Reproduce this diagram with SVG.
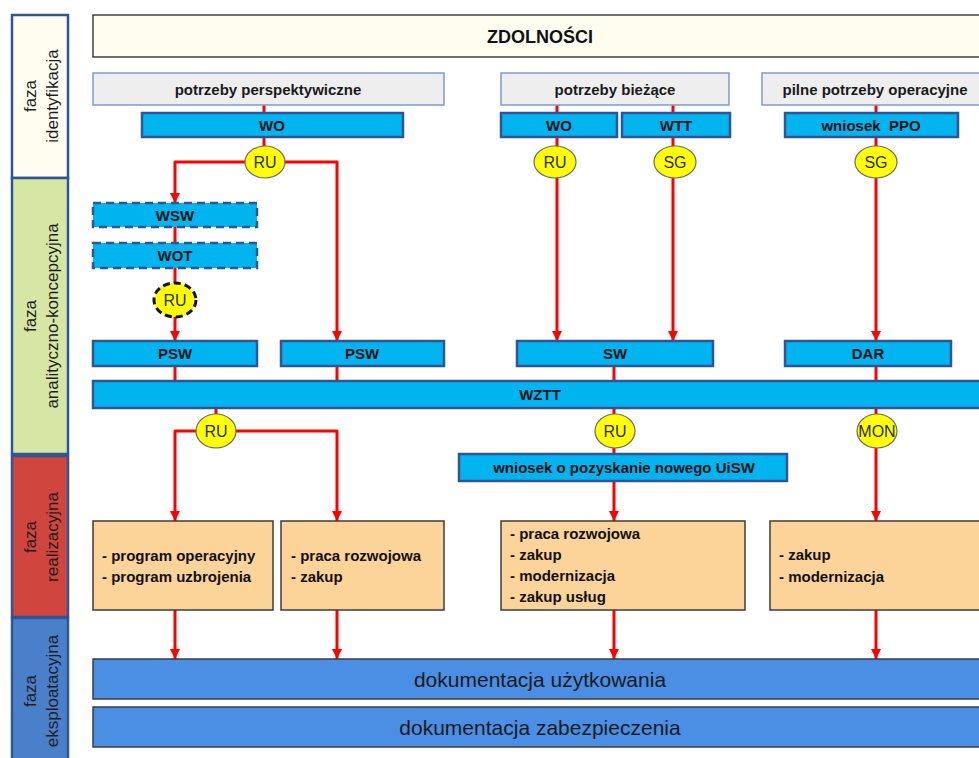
<svg xmlns="http://www.w3.org/2000/svg" width="979" height="758" viewBox="0 0 979 758">
  <style>
    .phase { stroke: #2f5597; stroke-width: 2.5; }
    .ptxt { font-family: "Liberation Sans", Arial, sans-serif; font-size: 17px; fill: #1e1e1e; }
    .need { fill: #eeeeee; stroke: #7f9cc9; stroke-width: 1.5; }
    .ntxt { font-family: "Liberation Sans", Arial, sans-serif; font-size: 15px; font-weight: bold; fill: #1a1a1a; text-anchor: middle; }
    .bb { fill: #00b4f0; stroke: #2f5597; stroke-width: 2.5; }
    .bbd { fill: #00b4f0; stroke: #2f5597; stroke-width: 2.5; stroke-dasharray: 8 5; }
    .btxt { font-family: "Liberation Sans", Arial, sans-serif; font-size: 15px; font-weight: bold; fill: #111; text-anchor: middle; }
    .ell { fill: #ffff00; stroke: #6b6b6b; stroke-width: 1.2; }
    .elld { fill: #ffff00; stroke: #111; stroke-width: 3; stroke-dasharray: 7 4; }
    .etxt { font-family: "Liberation Sans", Arial, sans-serif; font-size: 16px; fill: #2a2a2a; text-anchor: middle; }
    .org { fill: #fcd398; stroke: #3c3c3c; stroke-width: 1.5; }
    .otxt { font-family: "Liberation Sans", Arial, sans-serif; font-size: 15px; font-weight: bold; fill: #111; }
    .doc { fill: #4a8fe3; stroke: #3c3c3c; stroke-width: 1.5; }
    .dtxt { font-family: "Liberation Sans", Arial, sans-serif; font-size: 21px; fill: #1a1a1a; text-anchor: middle; }
    .ln { fill: none; stroke: #ff0000; stroke-width: 3; stroke-linejoin: round; }
    .arr { marker-end: url(#ah); }
  </style>
  <defs>
    <marker id="ah" markerUnits="userSpaceOnUse" markerWidth="10" markerHeight="10" refX="10" refY="5" orient="auto">
      <path d="M0,0 L10,5 L0,10 z" fill="#ff0000"/>
    </marker>
  </defs>

  <rect width="979" height="758" fill="#ffffff"/>

  <!-- phase column -->
  <g id="phase-identyfikacja">
    <rect class="phase" x="12" y="15" width="56" height="163" fill="#fefdf0"/>
    <text class="ptxt" transform="translate(36,96) rotate(-90)" text-anchor="middle">faza</text>
    <text class="ptxt" transform="translate(58,96) rotate(-90)" text-anchor="middle">identyfikacja</text>
  </g>
  <g id="phase-analityczno">
    <rect class="phase" x="12" y="178" width="56" height="276" fill="#d6e6a4"/>
    <text class="ptxt" transform="translate(36,316) rotate(-90)" text-anchor="middle">faza</text>
    <text class="ptxt" transform="translate(58,316) rotate(-90)" text-anchor="middle">analityczno-koncepcyjna</text>
  </g>
  <g id="phase-realizacyjna">
    <rect class="phase" x="12" y="456" width="56" height="161" fill="#d0463f"/>
    <text class="ptxt" transform="translate(36,537) rotate(-90)" text-anchor="middle">faza</text>
    <text class="ptxt" transform="translate(58,537) rotate(-90)" text-anchor="middle">realizacyjna</text>
  </g>
  <g id="phase-eksploatacyjna">
    <rect class="phase" x="12" y="618" width="56" height="150" fill="#4a7fc9"/>
    <text class="ptxt" transform="translate(36,691) rotate(-90)" text-anchor="middle">faza</text>
    <text class="ptxt" transform="translate(58,691) rotate(-90)" text-anchor="middle">eksploatacyjna</text>
  </g>

  <!-- connectors -->
  <g id="connectors">
    <path class="ln" d="M264,105 V113 M264,137 V147"/>
    <path class="ln arr" d="M245,162 H175 V203"/>
    <path class="ln arr" d="M284,162 H337 V341"/>
    <path class="ln" d="M175,227 V243 M175,268 V283"/>
    <path class="ln arr" d="M175,317 V341"/>
    <path class="ln" d="M175,366 V381 M337,366 V381"/>

    <path class="ln" d="M557,105 V113 M557,137 V147"/>
    <path class="ln arr" d="M557,178 V341"/>
    <path class="ln" d="M673,105 V113 M673,137 V147"/>
    <path class="ln arr" d="M673,178 V341"/>
    <path class="ln" d="M876,105 V113 M876,137 V147"/>
    <path class="ln arr" d="M876,178 V341"/>
    <path class="ln" d="M614,366 V381 M876,366 V381"/>

    <path class="ln" d="M216,408 V414"/>
    <path class="ln arr" d="M197,431 H175 V521"/>
    <path class="ln arr" d="M235,431 H337 V521"/>
    <path class="ln" d="M614,408 V414 M614,448 V454"/>
    <path class="ln arr" d="M614,481 V521"/>
    <path class="ln" d="M876,408 V414"/>
    <path class="ln arr" d="M876,448 V521"/>

    <path class="ln arr" d="M175,610 V659"/>
    <path class="ln arr" d="M337,610 V659"/>
    <path class="ln arr" d="M614,610 V659"/>
    <path class="ln arr" d="M876,610 V659"/>
  </g>

  <!-- capabilities header -->
  <g id="zdolnosci">
    <rect x="93" y="15" width="900" height="42" fill="#fefdf0" stroke="#404040" stroke-width="1.5"/>
    <text x="540" y="43" text-anchor="middle" font-family="Liberation Sans, Arial, sans-serif" font-size="18" font-weight="bold" fill="#111">ZDOLNOŚCI</text>
  </g>

  <!-- needs -->
  <g id="potrzeby-perspektywiczne">
    <rect class="need" x="93" y="73" width="351" height="32"/>
    <text class="ntxt" x="268" y="94.5">potrzeby perspektywiczne</text>
  </g>
  <g id="potrzeby-biezace">
    <rect class="need" x="501" y="73" width="228" height="32"/>
    <text class="ntxt" x="615" y="94.5">potrzeby bieżące</text>
  </g>
  <g id="pilne-potrzeby">
    <rect class="need" x="762" y="73" width="230" height="32"/>
    <text class="ntxt" x="875" y="94.5">pilne potrzeby operacyjne</text>
  </g>

  <!-- requests -->
  <g id="wo-1">
    <rect class="bb" x="142" y="113" width="261" height="24"/>
    <text class="btxt" x="272" y="130.5">WO</text>
  </g>
  <g id="wo-2">
    <rect class="bb" x="501" y="113" width="116" height="24"/>
    <text class="btxt" x="559" y="130.5">WO</text>
  </g>
  <g id="wtt">
    <rect class="bb" x="622" y="113" width="108" height="24"/>
    <text class="btxt" x="676" y="130.5">WTT</text>
  </g>
  <g id="wniosek-ppo">
    <rect class="bb" x="785" y="113" width="173" height="24"/>
    <text class="btxt" x="871" y="130.5" xml:space="preserve">wniosek  PPO</text>
  </g>

  <!-- decision points -->
  <g id="ru-1">
    <ellipse class="ell" cx="265" cy="162" rx="20" ry="16"/>
    <text class="etxt" x="265" y="168">RU</text>
  </g>
  <g id="ru-2">
    <ellipse class="ell" cx="555" cy="162" rx="21" ry="16"/>
    <text class="etxt" x="555" y="168">RU</text>
  </g>
  <g id="sg-1">
    <ellipse class="ell" cx="675" cy="162" rx="21" ry="16"/>
    <text class="etxt" x="675" y="168">SG</text>
  </g>
  <g id="sg-2">
    <ellipse class="ell" cx="876" cy="162" rx="21" ry="16"/>
    <text class="etxt" x="876" y="168">SG</text>
  </g>

  <!-- analysis phase -->
  <g id="wsw">
    <rect class="bbd" x="93" y="203" width="164" height="24"/>
    <text class="btxt" x="175" y="220.5">WSW</text>
  </g>
  <g id="wot">
    <rect class="bbd" x="93" y="243" width="164" height="25"/>
    <text class="btxt" x="175" y="261">WOT</text>
  </g>
  <g id="ru-optional">
    <ellipse class="elld" cx="175" cy="300" rx="21" ry="17"/>
    <text class="etxt" x="175" y="306">RU</text>
  </g>
  <g id="psw-1">
    <rect class="bb" x="93" y="341" width="164" height="25"/>
    <text class="btxt" x="175" y="359">PSW</text>
  </g>
  <g id="psw-2">
    <rect class="bb" x="281" y="341" width="163" height="25"/>
    <text class="btxt" x="362" y="359">PSW</text>
  </g>
  <g id="sw">
    <rect class="bb" x="517" y="341" width="196" height="25"/>
    <text class="btxt" x="615" y="359">SW</text>
  </g>
  <g id="dar">
    <rect class="bb" x="785" y="341" width="166" height="25"/>
    <text class="btxt" x="868" y="359">DAR</text>
  </g>
  <g id="wztt">
    <rect class="bb" x="93" y="381" width="900" height="27"/>
    <text class="btxt" x="540" y="400">WZTT</text>
  </g>

  <!-- realisation decisions -->
  <g id="ru-3">
    <ellipse class="ell" cx="216" cy="431" rx="20" ry="17"/>
    <text class="etxt" x="216" y="437">RU</text>
  </g>
  <g id="ru-4">
    <ellipse class="ell" cx="615" cy="431" rx="20" ry="17"/>
    <text class="etxt" x="615" y="437">RU</text>
  </g>
  <g id="mon">
    <ellipse class="ell" cx="877" cy="431" rx="20" ry="17"/>
    <text class="etxt" x="877" y="437">MON</text>
  </g>
  <g id="wniosek-uisw">
    <rect class="bb" x="459" y="454" width="328" height="27"/>
    <text class="btxt" x="624" y="473">wniosek o pozyskanie nowego UiSW</text>
  </g>

  <!-- realisation forms -->
  <g id="real-1">
    <rect class="org" x="93" y="521" width="180" height="89"/>
    <text class="otxt" x="102" y="561">- program operacyjny</text>
    <text class="otxt" x="102" y="582">- program uzbrojenia</text>
  </g>
  <g id="real-2">
    <rect class="org" x="281" y="521" width="163" height="89"/>
    <text class="otxt" x="291" y="561">- praca rozwojowa</text>
    <text class="otxt" x="291" y="582">- zakup</text>
  </g>
  <g id="real-3">
    <rect class="org" x="501" y="521" width="244" height="89"/>
    <text class="otxt" x="510" y="539">- praca rozwojowa</text>
    <text class="otxt" x="510" y="560">- zakup</text>
    <text class="otxt" x="510" y="581">- modernizacja</text>
    <text class="otxt" x="510" y="602">- zakup usług</text>
  </g>
  <g id="real-4">
    <rect class="org" x="770" y="521" width="225" height="89"/>
    <text class="otxt" x="779" y="560">- zakup</text>
    <text class="otxt" x="779" y="582">- modernizacja</text>
  </g>

  <!-- operation documentation -->
  <g id="dok-uzytkowania">
    <rect class="doc" x="93" y="659" width="900" height="40"/>
    <text class="dtxt" x="540" y="686.5">dokumentacja użytkowania</text>
  </g>
  <g id="dok-zabezpieczenia">
    <rect class="doc" x="93" y="707" width="900" height="40"/>
    <text class="dtxt" x="540" y="734.5">dokumentacja zabezpieczenia</text>
  </g>
</svg>
